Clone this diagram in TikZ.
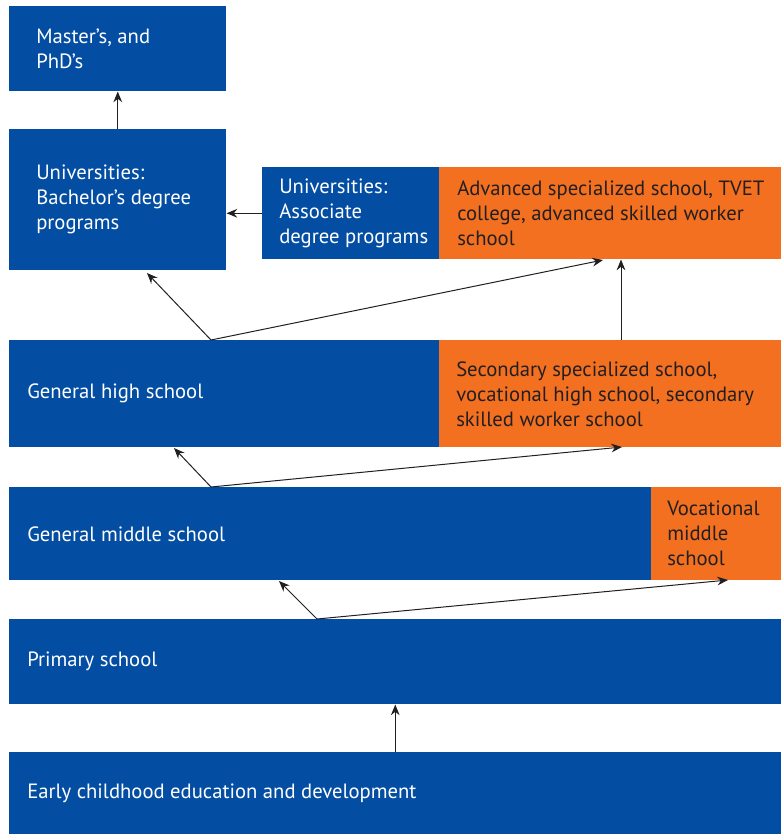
\documentclass[tikz,border=0pt]{standalone}
\usepackage{fontspec}
\setmainfont{PT Sans}
\usepackage{tikz}
\usetikzlibrary{arrows.meta}
\definecolor{eduBlue}{HTML}{034EA2}
\definecolor{eduOrange}{HTML}{F37021}
\definecolor{eduInk}{HTML}{231F20}

\begin{document}
\begin{tikzpicture}[x=0.75pt, y=-0.75pt,
    levelBox/.style 2 args={rectangle, anchor=north west, inner sep=0pt,
        minimum width=#1*0.75pt, minimum height=#2*0.75pt},
    blueBox/.style={levelBox={#1}, fill=eduBlue},
    orangeBox/.style={levelBox={#1}, fill=eduOrange},
    boxText/.style={anchor=west, inner sep=0pt, align=left,
        font=\fontsize{15.5}{18.75}\selectfont},
    link/.style={-{Stealth[length=8pt, width=6.5pt]}, line width=0.75pt, eduInk}]
    \useasboundingbox (0,0) rectangle (781,834);

    % boxes
    \node [blueBox={217}{85}] (phd) at (9,6) {};
    \node [blueBox={217}{141}] (bach) at (9,129) {};
    \node [blueBox={177}{92}] (assoc) at (262,167) {};
    \node [orangeBox={342}{92}] (adv) at (439,167) {};
    \node [blueBox={430}{107}] (high) at (9,340) {};
    \node [orangeBox={342}{107}] (sec) at (439,340) {};
    \node [blueBox={642}{93}] (mid) at (9,487) {};
    \node [orangeBox={130}{93}] (voc) at (651,487) {};
    \node [blueBox={772}{85}] (prim) at (9,619) {};
    \node [blueBox={772}{82}] (early) at (9,752) {};

    % texts
    \node [boxText, white] (phdText) at ([xshift=20.25pt]phd.west) {Master’s, and\\PhD’s};
    \node [boxText, white] (bachText) at ([xshift=20.25pt]bach.west) {Universities:\\Bachelor’s degree\\programs};
    \node [boxText, white] (assocText) at ([xshift=12.75pt]assoc.west) {Universities:\\Associate\\degree programs};
    \node [boxText, eduInk] (advText) at ([xshift=13.5pt]adv.west) {Advanced specialized school, TVET\\college, advanced skilled worker\\school};
    \node [boxText, white] (highText) at ([xshift=13.5pt]high.west) {General high school};
    \node [boxText, eduInk] (secText) at ([xshift=12.75pt]sec.west) {Secondary specialized school,\\vocational high school, secondary\\skilled worker school};
    \node [boxText, white] (midText) at ([xshift=13.5pt]mid.west) {General middle school};
    \node [boxText, eduInk] (vocText) at ([xshift=12pt]voc.west) {Vocational\\middle\\school};
    \node [boxText, white] (primText) at ([xshift=13.5pt]prim.west) {Primary school};
    \node [boxText, white] (earlyText) at ([xshift=13.5pt]early.west) {Early childhood education and development};

    % forks and free ends
    \coordinate (highFork) at (211,340);
    \coordinate (bachIn) at (147,273);
    \coordinate (advIn) at (603,260);
    \coordinate (secOut) at (621,340);
    \coordinate (midFork) at (211,487);
    \coordinate (highIn) at (174,448);
    \coordinate (secIn) at (622,447);
    \coordinate (primFork) at (317,619);
    \coordinate (midIn) at (279,581);
    \coordinate (vocIn) at (728,580);

    % arrows
    \draw [link] (bach.north) -- (phd.south);
    \draw [link] (assoc.west) -- (assoc.west -| bach.east);
    \draw [link] (highFork) -- (bachIn);
    \draw [link] (highFork) -- (advIn);
    \draw [link] (secOut) -- (secOut |- adv.south);
    \draw [link] (midFork) -- (highIn);
    \draw [link] (midFork) -- (secIn);
    \draw [link] (primFork) -- (midIn);
    \draw [link] (primFork) -- (vocIn);
    \draw [link] (early.north) -- (prim.south);
\end{tikzpicture}
\end{document}
